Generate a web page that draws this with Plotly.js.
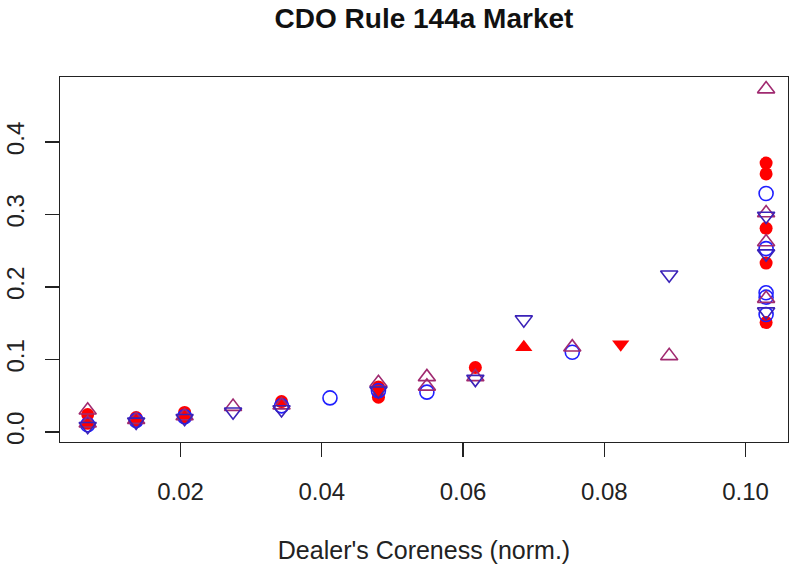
<!DOCTYPE html>
<html>
<head>
<meta charset="utf-8">
<script src="https://cdn.plot.ly/plotly-3.0.1.min.js"></script>
<style>
  html, body { margin: 0; padding: 0; background: #ffffff; }
  #chart { width: 792px; height: 564px; }
</style>
</head>
<body>
<div id="chart"></div>
<script>
// Coreness step shared by the dealer buckets
const step = 0.00686;

// Filled red circles
const redCircleX = [1, 1, 2, 2, 3, 3, 5, 7, 7, 9, 15, 15, 15, 15, 15].map(k => k * step);
const redCircleY = [0.024, 0.012, 0.020, 0.016, 0.027, 0.021, 0.042, 0.062, 0.048, 0.089, 0.371, 0.356, 0.281, 0.233, 0.151];

// Filled red triangles
const redTriX = [10, 12].map(k => k * step);
const redTriY = [0.117, 0.121];
const redTriSymbol = ['triangle-up', 'triangle-down'];

// Open blue circles
const blueCircleX = [1, 2, 3, 5, 6, 7, 8, 11, 15, 15, 15, 15, 15].map(k => k * step);
const blueCircleY = [0.010, 0.016, 0.021, 0.036, 0.047, 0.057, 0.055, 0.110, 0.329, 0.253, 0.192, 0.186, 0.162];

// Open purple triangles (pointing up)
const upTriX = [1, 1, 2, 3, 4, 5, 7, 8, 8, 9, 11, 13, 15, 15, 15, 15].map(k => k * step);
const upTriY = [0.030, 0.012, 0.017, 0.022, 0.035, 0.037, 0.068, 0.076, 0.063, 0.076, 0.117, 0.105, 0.473, 0.302, 0.262, 0.184];

// Open indigo triangles (pointing down)
const downTriX = [1, 2, 3, 4, 5, 7, 9, 10, 13, 15, 15, 15].map(k => k * step);
const downTriY = [0.008, 0.014, 0.019, 0.028, 0.031, 0.057, 0.073, 0.155, 0.217, 0.298, 0.246, 0.166];

const xTicks = [0.02, 0.04, 0.06, 0.08, 0.10];
const xTickText = ['0.02', '0.04', '0.06', '0.08', '0.10'];
const yTicks = [0.0, 0.1, 0.2, 0.3, 0.4];
const yTickText = ['0.0', '0.1', '0.2', '0.3', '0.4'];

const RED = '#ff0000';
const BLUE = '#1f1fff';
const PURPLE = '#a02a70';
const INDIGO = '#3a22b8';

const traces = [
  {
    x: redCircleX, y: redCircleY, type: 'scatter', mode: 'markers',
    marker: { symbol: 'circle', size: 13, color: RED, line: { width: 0 } }
  },
  {
    x: redTriX, y: redTriY, type: 'scatter', mode: 'markers',
    marker: { symbol: redTriSymbol, size: 15, color: RED, line: { width: 0 } }
  },
  {
    x: blueCircleX, y: blueCircleY, type: 'scatter', mode: 'markers',
    marker: { symbol: 'circle-open', size: 14, color: BLUE, line: { width: 1.6, color: BLUE } }
  },
  {
    x: upTriX, y: upTriY, type: 'scatter', mode: 'markers',
    marker: { symbol: 'triangle-up-open', size: 15, color: PURPLE, line: { width: 1.6, color: PURPLE } }
  },
  {
    x: downTriX, y: downTriY, type: 'scatter', mode: 'markers',
    marker: { symbol: 'triangle-down-open', size: 15, color: INDIGO, line: { width: 1.6, color: INDIGO } }
  }
];

const FONT = 'Liberation Sans, Arial, sans-serif';

const layout = {
  width: 792,
  height: 564,
  showlegend: false,
  paper_bgcolor: '#ffffff',
  plot_bgcolor: '#ffffff',
  font: { family: FONT, color: '#222222', size: 24 },
  margin: { l: 60, r: 4, t: 77, b: 122 },
  title: {
    text: '<b>CDO Rule 144a Market</b>',
    font: { family: FONT, size: 28, color: '#111111' },
    x: 0.5, xref: 'paper', xanchor: 'center',
    y: 0.968, yref: 'container', yanchor: 'middle'
  },
  xaxis: {
    range: [0.00294, 0.106],
    tickmode: 'array', tickvals: xTicks, ticktext: xTickText,
    ticks: 'outside', ticklen: 14, tickwidth: 1.2, tickcolor: '#222222',
    ticklabelstandoff: 14,
    showline: true, linecolor: '#222222', linewidth: 1.2, mirror: true,
    showgrid: false, zeroline: false,
    tickfont: { family: FONT, size: 24, color: '#222222' },
    title: { text: "Dealer's Coreness (norm.)", font: { family: FONT, size: 25, color: '#222222' }, standoff: 37 }
  },
  yaxis: {
    range: [-0.0138, 0.4897],
    tickmode: 'array', tickvals: yTicks, ticktext: yTickText,
    ticks: 'outside', ticklen: 14, tickwidth: 1.2, tickcolor: '#222222',
    tickangle: -90, ticklabelstandoff: 11,
    showline: true, linecolor: '#222222', linewidth: 1.2, mirror: true,
    showgrid: false, zeroline: false,
    tickfont: { family: FONT, size: 24, color: '#222222' }
  }
};

Plotly.newPlot('chart', traces, layout, { displayModeBar: false, staticPlot: true });
</script>
</body>
</html>
